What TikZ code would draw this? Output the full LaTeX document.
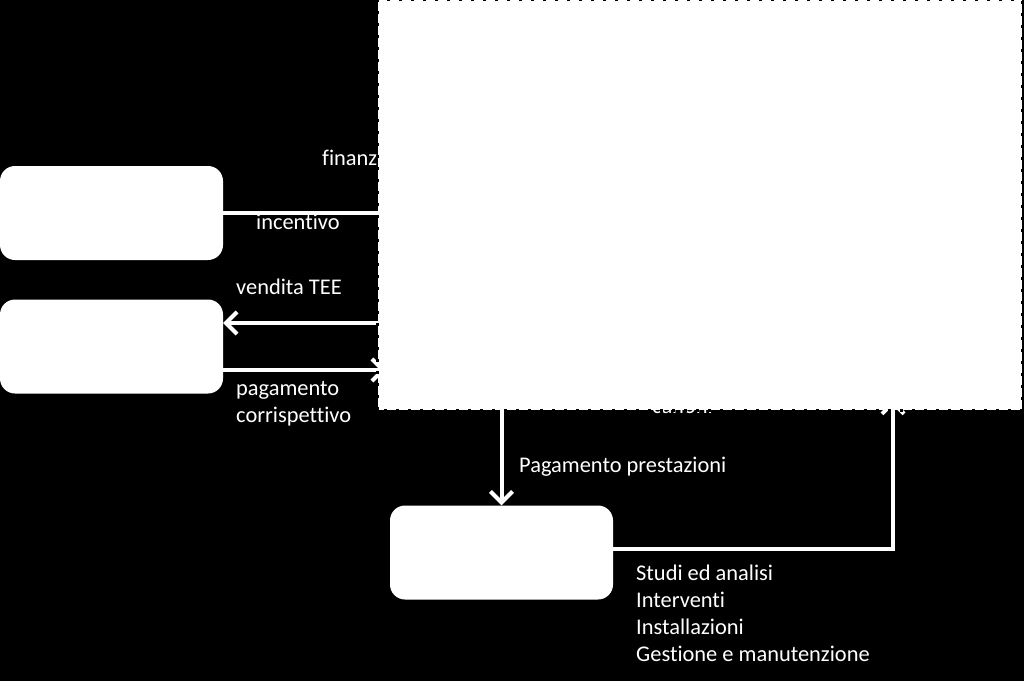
\documentclass[tikz,border=0pt]{standalone}
\usepackage{fontspec}
\setmainfont{Carlito}[Ligatures={NoCommon,NoContextual}]
\usetikzlibrary{arrows.meta,calc}

\begin{document}
\begin{tikzpicture}[x=1pt, y=-1pt,
		box/.style={fill=white, rounded corners=15pt, minimum width=223pt, minimum height=94pt, inner sep=0pt},
		bigbox/.style={minimum width=644pt, minimum height=410pt, inner sep=0pt},
		flow/.style={line width=4pt, color=white},
		tip/.style={-{Straight Barb[length=11pt, width=22pt]}},
		lbl/.style={text=white, inner sep=0pt, anchor=base west, font=\fontsize{22.4}{26.7}\selectfont}]
			%%%%% START %%%%%
			
			\fill[black] (0, 0) rectangle (1024, 681);
			\useasboundingbox (0, 0) rectangle (1024, 681);
			
			\node[bigbox] (cliente) at (700, 205) {};
			
			\node[box] (gse) at (111.5, 213) {};
			\node[box] (mercato) at (111.5, 346.5) {};
			\node[box] (fornitore) at (501.5, 552.5) {};
			
			\coordinate (tee) at ([yshift=23.5pt]mercato.east);
			\coordinate (pag) at ([yshift=-23.5pt]mercato.east);
			\coordinate (canale) at (893, 400);
			
			\draw[flow] (gse.east) -- (gse.east -| cliente.west);
			\draw[flow, tip] (tee -| cliente.west) -- (tee);
			\draw[flow, tip] (pag) -- ([xshift=8pt]pag -| cliente.west);
			\draw[flow, tip] (cliente.south -| fornitore.north) -- (fornitore.north);
			\draw[flow, tip] ([yshift=3.5pt]fornitore.east) -| (canale);
			
			\node[lbl] (finanz) at (322, 165) {finanziamento};
			\node[lbl] (incentivo) at (256, 229) {incentivo};
			\node[lbl] (vendita) at (236, 294) {vendita TEE};
			\node[lbl] (pagamento) at (236, 395) {pagamento};
			\node[lbl] (corrisp) at (236, 422) {corrispettivo};
			\node[lbl] (prestazioni) at (519, 472) {Pagamento prestazioni};
			\node[lbl] (canoni) at (652, 413) {canoni};
			
			\node[lbl] (studi) at (636, 580) {Studi ed analisi};
			\node[lbl] (interventi) at (636, 607) {Interventi};
			\node[lbl] (install) at (636, 634) {Installazioni};
			\node[lbl] (gestione) at (636, 661) {Gestione e manutenzione};
			
			\draw[fill=white, draw=black, line width=3pt, dash pattern=on 3pt off 9pt] (cliente.south west) rectangle (cliente.north east);
			
			%%%%% END %%%%%
\end{tikzpicture}
\end{document}
